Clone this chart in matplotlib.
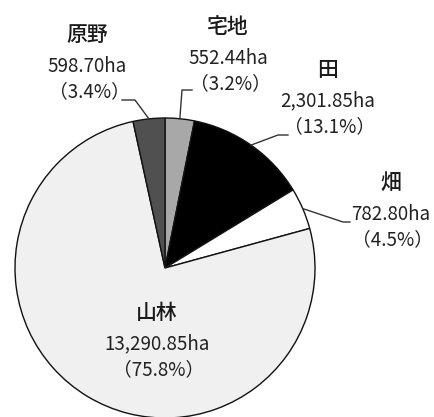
import numpy as np
import matplotlib.pyplot as plt

plt.rcParams['font.family'] = ['Noto Sans CJK JP', 'DejaVu Sans']

# land use (ha), clockwise from 12 o'clock
names = ['宅地', '田', '畑', '山林', '原野']
areas = [552.44, 2301.85, 782.80, 13290.85, 598.70]
area_text = ['552.44ha', '2,301.85ha', '782.80ha', '13,290.85ha', '598.70ha']
pct_text = ['3.2%', '13.1%', '4.5%', '75.8%', '3.4%']
colors = ['#a8a8a8', '#000000', '#ffffff', '#f0f0f0', '#505050']

W, H = 435, 417
fig = plt.figure(figsize=(W / 100, H / 100), dpi=100)
ax = fig.add_axes([0, 0, 1, 1])

cx, cy, r = 165, H - 268, 150
wedges, _ = ax.pie(areas, colors=colors, startangle=90, counterclock=False,
                   center=(cx, cy), radius=r, frame=True,
                   wedgeprops=dict(edgecolor='#111111', linewidth=1.0))
ax.set_xlim(0, W)
ax.set_ylim(0, H)
ax.set_aspect('equal')
ax.axis('off')

# label positions (pixel, from top) for title line; elbow/end of leader
label_pos = {'宅地': (228, 27), '田': (328, 70), '畑': (391, 183),
             '山林': (157, 313), '原野': (87, 35)}
leaders = {'宅地': [(182, 90), (192, 90)], '田': [(278, 135), (288, 135)],
           '畑': [(343, 222), (350, 222)], '原野': [(135, 100), (122, 100)]}

for i, w in enumerate(wedges):
    nm = names[i]
    lx, ly = label_pos[nm]
    ax.text(lx, H - ly, nm, ha='center', va='center', fontsize=15,
            fontweight='medium', color='#1a1a1a')
    ax.text(lx, H - ly - 31, area_text[i], ha='center', va='center',
            fontsize=13.5, color='#222222')
    ax.text(lx + 2, H - ly - 57, '（' + pct_text[i] + '）', ha='center',
            va='center', fontsize=13.5, color='#222222')
    if nm in leaders:
        mid = np.deg2rad((w.theta1 + w.theta2) / 2)
        px, py = cx + r * np.cos(mid), cy + r * np.sin(mid)
        pts = [(px, py)] + [(x, H - y) for x, y in leaders[nm]]
        ax.plot([p[0] for p in pts], [p[1] for p in pts], color='#333333',
                linewidth=1.0)

fig.savefig('out.png', dpi=100)
